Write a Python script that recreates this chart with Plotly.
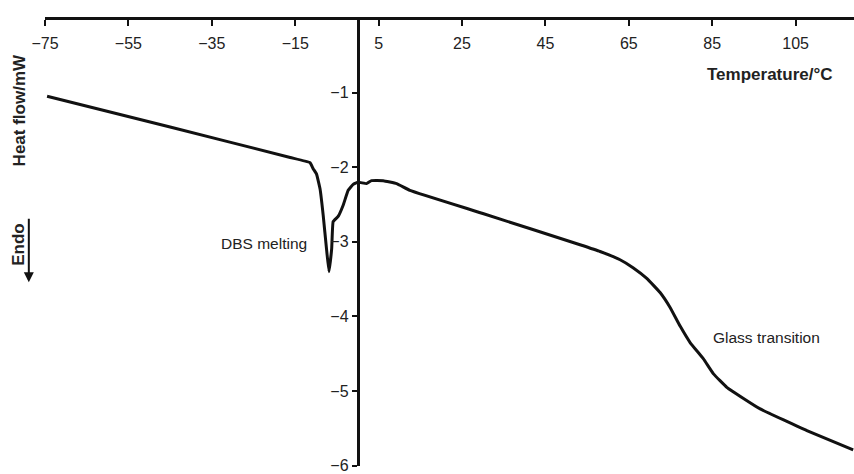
import plotly.graph_objects as go

# Data
temperature = [-74.5, -45, -16.2, -11.45, -10.7, -9.9, -9.05, -8.3, -7.5, -6.9, -6.25, -5.9, -4.7, -3.5,
               -2.3, -1.1, 0.1, 2.1, 3.3, 6.1, 9.3, 12.5, 30, 53.3, 58.1, 62.9, 66.1, 69.3,
               72.5, 74.9, 77.3, 79.7, 82.9, 85.3, 88.5, 92.5, 96.5, 107.7, 118.8]
heat_flow = [-1.05, -1.46, -1.87, -1.94, -2.02, -2.09, -2.29, -2.64, -3.09, -3.40, -3.09, -2.73, -2.66, -2.51,
             -2.31, -2.23, -2.20, -2.22, -2.18, -2.18, -2.22, -2.31, -2.62, -3.04, -3.13, -3.24, -3.35, -3.49,
             -3.68, -3.88, -4.13, -4.35, -4.57, -4.77, -4.95, -5.10, -5.24, -5.53, -5.79]

x_ticks = [-75, -55, -35, -15, 5, 25, 45, 65, 85, 105]
y_ticks = [-1, -2, -3, -4, -5, -6]
x_range = [-75, 119]
y_range = [-6.005, 0]

FONT = "Liberation Sans, Arial, sans-serif"
TXT = "#222222"

fig = go.Figure()
fig.add_trace(go.Scatter(x=temperature, y=heat_flow, mode="lines",
                         line=dict(color="#111111", width=3, shape="spline", smoothing=0.3),
                         showlegend=False, hoverinfo="skip"))

ypos = (0 - x_range[0]) / (x_range[1] - x_range[0])

fig.update_layout(
    width=854, height=474,
    margin=dict(l=45, r=0, t=18, b=5),
    paper_bgcolor="white", plot_bgcolor="white",
    font=dict(family=FONT, size=16, color=TXT),
    xaxis=dict(range=x_range, side="bottom", anchor="free", position=1,
               tickvals=x_ticks, ticks="outside", ticklen=6, ticklabelstandoff=4,
               tickwidth=2, tickcolor="#111111", ticklabeloverflow="allow",
               showline=True, linewidth=3, linecolor="#111111", showgrid=False, zeroline=False,
               tickfont=dict(size=16, family=FONT, color=TXT)),
    yaxis=dict(range=y_range, tickvals=y_ticks, ticks="outside", ticklen=5, tickwidth=2,
               tickcolor="#111111", anchor="free", position=ypos, ticklabeloverflow="allow",
               showline=True, linewidth=3, linecolor="#111111", showgrid=False, zeroline=False,
               tickfont=dict(size=16, family=FONT, color=TXT)),
)

fig.add_annotation(text="<b>Temperature/°C</b>", xref="paper", yref="paper", x=0.9765, y=0.874,
                   xanchor="right", yanchor="middle", showarrow=False,
                   font=dict(size=17, family=FONT, color=TXT))
fig.add_annotation(text="<b>Heat flow/mW</b>", xref="paper", yref="paper", x=-0.032, y=0.794,
                   xanchor="center", yanchor="middle", showarrow=False, textangle=-90,
                   font=dict(size=17, family=FONT, color=TXT))
fig.add_annotation(text="<b>Endo</b>", xref="paper", yref="paper", x=-0.032, y=0.494,
                   xanchor="center", yanchor="middle", showarrow=False, textangle=-90,
                   font=dict(size=17, family=FONT, color=TXT))
fig.add_annotation(text="", xref="paper", yref="paper", x=-0.02, y=0.41,
                   ax=0, ay=-65, showarrow=True, arrowhead=2, arrowsize=1, arrowwidth=2,
                   arrowcolor="#111111")
fig.add_annotation(text="DBS melting", x=-22.6, y=-3.02, showarrow=False,
                   font=dict(size=15.5, family=FONT, color=TXT))
fig.add_annotation(text="Glass transition", x=98.1, y=-4.28, showarrow=False,
                   font=dict(size=15.5, family=FONT, color=TXT))

fig.write_html("out.html")
